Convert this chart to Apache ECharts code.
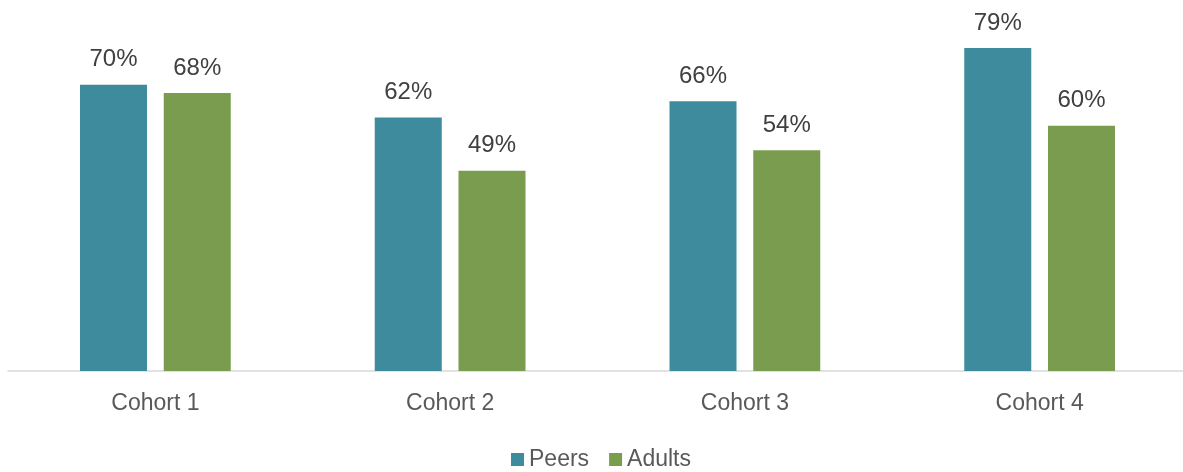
<!DOCTYPE html>
<html>
<head>
<meta charset="utf-8">
<script src="https://cdn.jsdelivr.net/npm/echarts@6/dist/echarts.min.js"></script>
<style>
  html, body { margin: 0; padding: 0; background: #ffffff; overflow: hidden; }
  #chart { width: 1187px; height: 472px; }
</style>
</head>
<body>
<div id="chart"></div>
<script>
// Share of respondents per cohort, by source of support (percent)
const cohorts = ['Cohort 1', 'Cohort 2', 'Cohort 3', 'Cohort 4'];
const peers = [70, 62, 66, 79];
const adults = [68, 49, 54, 60];
const seriesNames = ['Peers', 'Adults'];

const FONT = '"Liberation Sans", Arial, sans-serif';

const valueLabel = {
  show: true,
  position: 'top',
  distance: 13,
  formatter: p => p.value + '%',
  fontFamily: FONT,
  fontSize: 24,
  color: '#404040'
};

const chart = echarts.init(document.getElementById('chart'), null, { renderer: 'canvas' });
chart.setOption({
  animation: false,
  backgroundColor: '#ffffff',
  grid: { left: 8, right: 0, top: 3, bottom: 101, containLabel: false },
  legend: {
    data: seriesNames,
    top: 443,
    left: 506,
    itemWidth: 13,
    itemHeight: 13,
    itemGap: 20,
    icon: 'rect',
    textStyle: { fontFamily: FONT, fontSize: 23, color: '#595959' }
  },
  xAxis: {
    type: 'category',
    data: cohorts,
    axisLine: { show: true, lineStyle: { color: '#d9d9d9', width: 1.5 } },
    axisTick: { show: false },
    axisLabel: { margin: 21, fontFamily: FONT, fontSize: 23, color: '#595959' }
  },
  yAxis: {
    type: 'value',
    min: 0,
    max: 90,
    show: false,
    splitLine: { show: false }
  },
  series: [
    {
      name: seriesNames[0],
      type: 'bar',
      data: peers,
      barWidth: 67,
      barGap: '25%',
      itemStyle: { color: '#3d8b9d' },
      label: valueLabel
    },
    {
      name: seriesNames[1],
      type: 'bar',
      data: adults,
      barWidth: 67,
      barGap: '25%',
      itemStyle: { color: '#7a9c4e' },
      label: valueLabel
    }
  ]
});
</script>
</body>
</html>
